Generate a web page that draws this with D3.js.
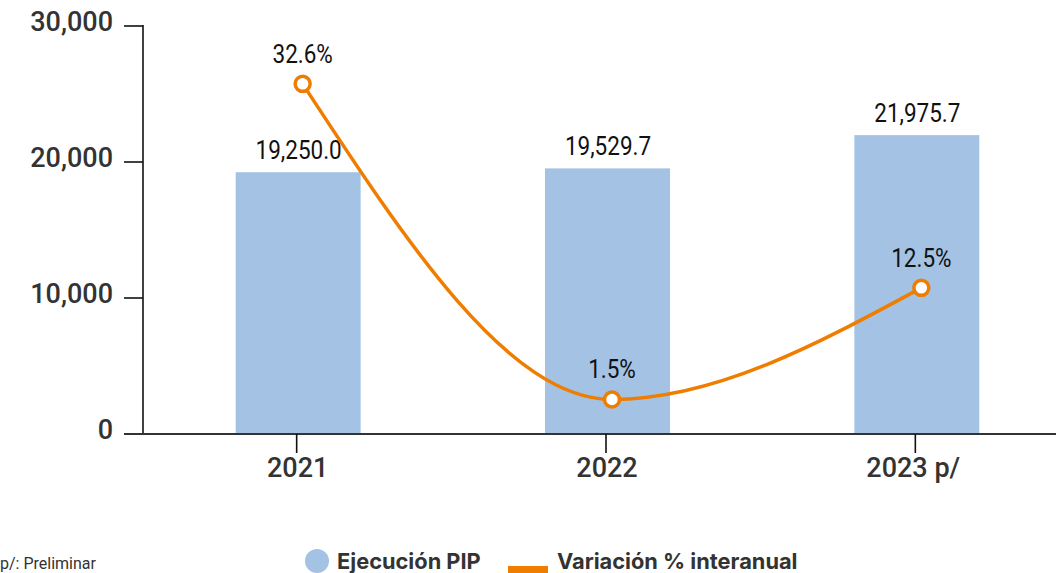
<!DOCTYPE html>
<html>
<head>
<meta charset="utf-8">
<script src="https://cdn.jsdelivr.net/npm/d3@7"></script>
<style>
  body { margin: 0; background: #fff; overflow: hidden; }
  svg { display: block; }
  .axis-label { font-family: Roboto, sans-serif; font-weight: 500; fill: #333; }
  .val { font-family: Roboto, sans-serif; fill: #111; }
  .legend text { font-family: Inter, sans-serif; font-weight: 700; fill: #333; }
</style>
</head>
<body>
<svg id="chart"></svg>
<script>
// data
var years = ["2021", "2022", "2023 p/"];
var ejecucion = [19250.0, 19529.7, 21975.7];
var variacion = [32.6, 1.5, 12.5];
var yTicks = [0, 10000, 20000, 30000];

var width = 1056, height = 573;
var barColor = "#a4c2e4", lineColor = "#ef7d00";

var svg = d3.select("#chart")
	.attr("width", width)
	.attr("height", height);

var xScale = d3.scaleBand().domain(years).range([142, 1070]);
var yScale = d3.scaleLinear().domain([0, 30000]).range([434, 26]);
var y2Scale = d3.scaleLinear().domain([-1.9, 38.4]).range([434, 25]);

var fmtVal = d3.format(",.1f");
var fmtAxis = d3.format(",");

var cx = function(i) { return xScale(years[i]) + xScale.bandwidth() / 2; };
var barW = xScale.bandwidth() * 0.404;

// bars
svg.append("g").selectAll("rect")
	.data(ejecucion)
	.enter().append("rect")
	.attr("x", function(d, i) { return cx(i) + 1.5 - barW / 2; })
	.attr("y", function(d) { return yScale(d); })
	.attr("width", barW)
	.attr("height", function(d) { return yScale(0) - yScale(d); })
	.style("fill", barColor);

// y axis
var yAxis = svg.append("g")
	.attr("transform", "translate(143,0)");
yAxis.append("line")
	.attr("y1", yScale(30000) - 1).attr("y2", yScale(0))
	.attr("stroke", "#111").attr("stroke-width", 1.6);
yAxis.selectAll(".tick")
	.data(yTicks)
	.enter().append("line")
	.attr("x1", -19).attr("x2", 0)
	.attr("y1", function(d) { return yScale(d); })
	.attr("y2", function(d) { return yScale(d); })
	.attr("stroke", "#111").attr("stroke-width", 1.6);
yAxis.selectAll("text")
	.data(yTicks)
	.enter().append("text")
	.attr("class", "axis-label")
	.attr("x", -30)
	.attr("y", function(d) { return yScale(d); })
	.attr("dy", "0.2em")
	.attr("text-anchor", "end")
	.style("font-size", "27px")
	.text(function(d) { return fmtAxis(d); });

// x axis
svg.append("line")
	.attr("x1", 124).attr("x2", width)
	.attr("y1", yScale(0)).attr("y2", yScale(0))
	.attr("stroke", "#333").attr("stroke-width", 1.8);
var xg = svg.append("g").selectAll("g")
	.data(years)
	.enter().append("g")
	.attr("transform", function(d, i) { return "translate(" + cx(i) + "," + yScale(0) + ")"; });
xg.append("line")
	.attr("y1", 0).attr("y2", 19)
	.attr("stroke", "#111").attr("stroke-width", 1.6);
xg.append("text")
	.attr("class", "axis-label")
	.attr("y", 43)
	.attr("text-anchor", function(d, i) { return i == 2 ? "start" : "middle"; })
	.attr("x", function(d, i) { return i == 2 ? -49 : 1; })
	.style("font-size", "27px")
	.text(function(d) { return d; });

// bar labels
svg.append("g").selectAll("text")
	.data(ejecucion)
	.enter().append("text")
	.attr("class", "val")
	.attr("text-anchor", "middle")
	.attr("transform", function(d, i) { return "translate(" + (cx(i) + 2) + "," + (yScale(d) - 13) + ") scale(0.9,1)"; })
	.style("font-size", "25px")
	.text(function(d) { return fmtVal(d); });

// line
var line = d3.line().curve(d3.curveMonotoneX)
	.x(function(d, i) { return cx(i) + 6; })
	.y(function(d) { return y2Scale(d); });

svg.append("path")
	.datum(variacion)
	.attr("d", line)
	.attr("fill", "none")
	.attr("stroke", lineColor)
	.attr("stroke-width", 3.5);

svg.append("g").selectAll("circle")
	.data(variacion)
	.enter().append("circle")
	.attr("cx", function(d, i) { return cx(i) + 6; })
	.attr("cy", function(d) { return y2Scale(d); })
	.attr("r", 7.5)
	.attr("fill", "#fff")
	.attr("stroke", lineColor)
	.attr("stroke-width", 3.5);

svg.append("g").selectAll("text")
	.data(variacion)
	.enter().append("text")
	.attr("class", "val")
	.attr("text-anchor", "middle")
	.attr("transform", function(d, i) { return "translate(" + (cx(i) + 6) + "," + (y2Scale(d) - 21) + ") scale(0.9,1)"; })
	.style("font-size", "25px")
	.text(function(d) { return d.toFixed(1) + "%"; });

// legend
var legend = svg.append("g").attr("class", "legend");
legend.append("circle")
	.attr("cx", 317).attr("cy", 561).attr("r", 12)
	.attr("fill", barColor);
legend.append("text")
	.attr("x", 337).attr("y", 569)
	.style("font-size", "21.8px")
	.text("Ejecución PIP");
legend.append("rect")
	.attr("x", 508).attr("y", 566)
	.attr("width", 40).attr("height", 8)
	.attr("fill", lineColor);
legend.append("text")
	.attr("x", 557).attr("y", 569)
	.style("font-size", "21.8px")
	.text("Variación % interanual");

svg.append("text")
	.attr("x", 0).attr("y", 569)
	.style("font-family", "Roboto, sans-serif")
	.style("font-size", "16px")
	.style("fill", "#333")
	.text("p/: Preliminar");
</script>
</body>
</html>
